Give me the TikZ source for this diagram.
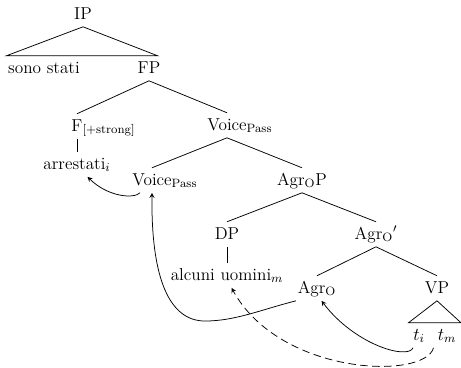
\documentclass[tikz,border=0pt]{standalone}
\usetikzlibrary{arrows}
\tikzstyle{cat} = [inner xsep=1pt, inner ysep=3pt, text height=8.3pt, text depth=2pt, anchor=base]
\tikzstyle{branch} = [line width=0.5pt]
\tikzstyle{arrow} = [line width=0.5pt,->,>=stealth]
\tikzstyle{trace} = [arrow, dash pattern=on 5pt off 3pt]

\begin{document}
\begin{tikzpicture}[x=0.6667pt, y=-0.6667pt, font=\fontsize{11.5}{13}\selectfont]
    \useasboundingbox (0,0) rectangle (461,367);
    % tree
    \node[cat] (ip) at (83,19) {IP};
    \node[cat] (sono) at (44,73) {sono stati};
    \node[cat] (fp) at (149,73) {FP};
    \node[cat] (f) at (77,131) {F\rlap{\textsubscript{[+strong]}}};
    \node[cat] (arr) at (77,169) {arrestati$_i$};
    \node[cat] (vu) at (227,130) {Voice\rlap{\textsubscript{Pass}}};
    \node[cat] (vl) at (152,185) {Voice\rlap{\textsubscript{Pass}}};
    \node[cat] (aop) at (302,185) {Agr\textsubscript{O}P};
    \node[cat] (dp) at (227,239) {DP};
    \node[cat] (aob) at (376,239) {Agr\textsubscript{O}$'$};
    \node[cat] (au) at (227,280) {alcuni uomini$_m$};
    \node[cat] (ao) at (317,293) {Agr\textsubscript{O}};
    \node[cat] (vp) at (437,293) {VP};
    \node[cat] (ti) at (419,340) {$t_i$};
    \node[cat] (tm) at (447,340) {$t_m$};
    \draw[branch] (ip.south) -- (sono.north west) -- ([xshift=-3pt]fp.north east) -- cycle;
    \draw[branch] (fp.south) -- (f.north) (fp.south) -- (vu.north);
    \draw[branch] (f.south) -- (arr.north);
    \draw[branch] (vu.south) -- (vl.north) (vu.south) -- (aop.north);
    \draw[branch] (aop.south) -- (dp.north) (aop.south) -- (aob.north);
    \draw[branch] (dp.south) -- (au.north);
    \draw[branch] (aob.south) -- (ao.north) (aob.south) -- (vp.north);
    \draw[branch] (vp.south) -- ([xshift=-2pt]ti.north west) -- ([xshift=2pt]tm.north east) -- cycle;
    % movement
    \draw[arrow] ([xshift=-8pt]vl.south) .. controls (134,199) and (108,197) .. ([xshift=7pt]arr.south);
    \draw[arrow] (ao.south west) .. controls (260,310) and (235,321) .. (205,321) .. controls (170,321) and (151,280) .. (vl.south);
    \draw[arrow] ([xshift=-4pt]ti.south) .. controls (408,360) and (355,345) .. ([xshift=3pt]ao.south);
    \draw[trace] ([xshift=-9pt]tm.south) .. controls (425,380) and (280,376) .. ([xshift=3pt]au.south);
\end{tikzpicture}
\end{document}
